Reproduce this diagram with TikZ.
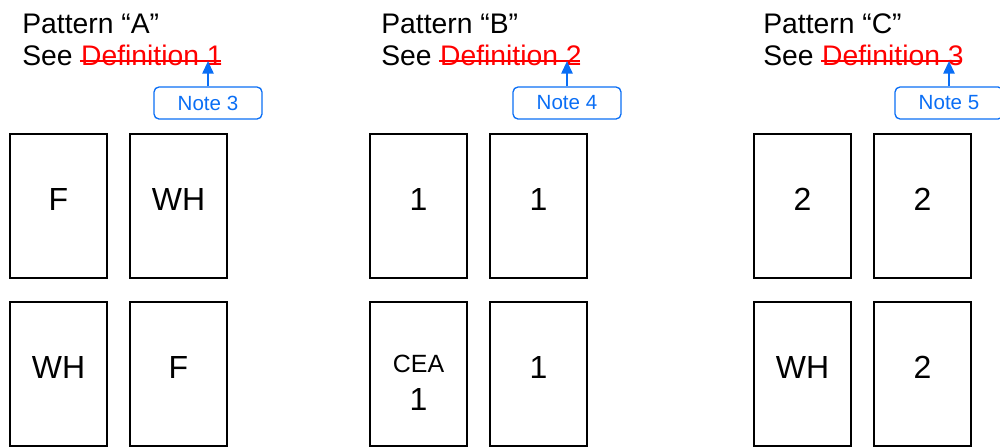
\documentclass[tikz,border=0pt]{standalone}
\usepackage{fontspec}
\setmainfont{Liberation Sans}
\usetikzlibrary{arrows.meta, calc, positioning}
\definecolor{NoteBlue}{RGB}{10,110,245}
\definecolor{StrikeRed}{RGB}{255,0,0}

\begin{document}
\begin{tikzpicture}[x=0.02cm, y=0.02cm,
  cell/.style={draw, line width=0.8pt, minimum width=1.94cm, minimum height=2.88cm, inner sep=0pt},
  celltxt/.style={font=\fontsize{18.2pt}{21.6pt}\selectfont},
  head/.style={anchor=base west, inner sep=0pt, font=\fontsize{16.1pt}{18.2pt}\selectfont},
  notebox/.style={draw=NoteBlue, text=NoteBlue, rounded corners=0.1cm, line width=0.75pt,
                  minimum width=2.16cm, minimum height=0.64cm, inner sep=0pt,
                  font=\fontsize{11.7pt}{14pt}\selectfont},
  notearrow/.style={-{Triangle[length=0.25cm, width=0.22cm]}, NoteBlue, line width=1.3pt}]

  \useasboundingbox (0,0) rectangle (1000,-447);

  % headings, struck-out references and notes
  \foreach \px/\pat/\dfn/\nte in {22/A/1/3, 381/B/2/4, 763/C/3/5} {
    \node[head] (pat\pat) at (\px,-33) {Pattern “\pat”};
    \node[head] (see\pat) at (\px,-65) {See};
    \node[head, text=StrikeRed] (def\pat) at ($(see\pat.base east)+(7.8,0)$) {Definition \dfn};
    \draw[StrikeRed, line width=1pt] ($(def\pat.base west)+(-1,4)$) -- ($(def\pat.base east)+(-2,4)$)
          coordinate (sk\pat);
    \node[notebox] (note\pat) at (\px+186,-103) {Note \nte};
    \draw[notearrow] (note\pat) -- (note\pat.north |- sk\pat);
  }

  % page cells
  \foreach \cx/\cy/\txt/\nm in {58.5/206/F/a1, 178.5/206/WH/a2, 58.5/374/WH/a3, 178.5/374/F/a4,
                                418.5/206/1/b1, 538.5/206/1/b2, 538.5/374/1/b4,
                                802.5/206/2/c1, 922.5/206/2/c2, 802.5/374/WH/c3, 922.5/374/2/c4}
    \node[cell, label={[celltxt, yshift=0.13cm]center:\txt}] (\nm) at (\cx,-\cy) {};
  \node[cell, label={[celltxt, align=center, yshift=-0.18cm]center:{\fontsize{14.2pt}{21.6pt}\selectfont CEA}\\1}]
        (b3) at (418.5,-374) {};
\end{tikzpicture}
\end{document}
